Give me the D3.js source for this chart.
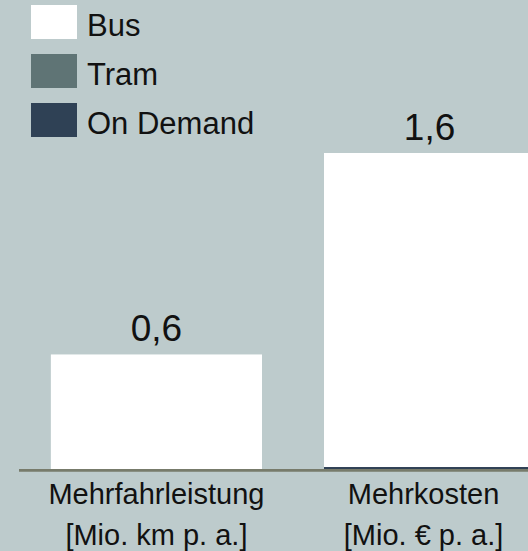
<!DOCTYPE html>
<html>
<head>
<meta charset="utf-8">
<script src="https://cdn.jsdelivr.net/npm/d3@7"></script>
<style>
    body { margin: 0; background: #bdcbcc; }
    svg { display: block; font-family: "Liberation Sans", Arial, sans-serif; }
</style>
</head>
<body>
<svg id="chart" width="528" height="551"></svg>
<script>
var categories = ['Mehrfahrleistung', 'Mehrkosten'];
var categoryUnits = ['[Mio. km p. a.]', '[Mio. € p. a.]'];
var seriesNames = ['Bus', 'Tram', 'On Demand'];
var busValues = [0.58, 1.59];
var tramValues = [0, 0];
var onDemandValues = [0, 0.01];
var seriesColors = ['#ffffff', '#5f7475', '#2f4155'];

var svg = d3.select('#chart');
var width = +svg.attr('width');
var height = +svg.attr('height');

svg.append('rect')
    .attr('width', width)
    .attr('height', height)
    .attr('fill', '#bdcbcc');

//-----------------------------------------------------------------------------
var rows = categories.map(function(c, i) {
    return {category: c, unit: categoryUnits[i], Bus: busValues[i], Tram: tramValues[i], 'On Demand': onDemandValues[i]};
});
// On Demand sits at the bottom of the stack, Bus on top
var stacked = d3.stack().keys(seriesNames).order(d3.stackOrderReverse)(rows);

var x = d3.scaleBand()
    .domain(categories)
    .range([20, 566])
    .paddingInner(0.227)
    .paddingOuter(0.113);

var y = d3.scaleLinear()
    .domain([0, 1.6])
    .range([469, 153]);

var color = d3.scaleOrdinal().domain(seriesNames).range(seriesColors);

//-----------------------------------------------------------------------------
svg.append('g')
    .selectAll('g')
    .data(stacked)
    .enter().append('g')
    .attr('fill', function(d) { return color(d.key); })
    .selectAll('rect')
    .data(function(d) { return d; })
    .enter().append('rect')
    .attr('x', function(d) { return x(d.data.category); })
    .attr('y', function(d) { return y(d[1]); })
    .attr('width', x.bandwidth())
    .attr('height', function(d) { return y(d[0]) - y(d[1]); });

// baseline
svg.append('line')
    .attr('x1', x.range()[0] - 1)
    .attr('x2', width)
    .attr('y1', y(0) + 1.4)
    .attr('y2', y(0) + 1.4)
    .attr('stroke', '#777b6b')
    .attr('stroke-width', 2.6);

// totals above bars
var fmt = d3.format('.1f');
svg.append('g')
    .selectAll('text')
    .data(rows)
    .enter().append('text')
    .attr('x', function(d) { return x(d.category) + x.bandwidth() / 2; })
    .attr('y', function(d) { return y(d.Bus + d.Tram + d['On Demand']) - 13; })
    .attr('text-anchor', 'middle')
    .style('font-size', '37px')
    .attr('fill', '#111')
    .text(function(d) { return fmt(d.Bus + d.Tram + d['On Demand']).replace('.', ','); });

// category labels
var catLabels = svg.append('g')
    .selectAll('text')
    .data(rows)
    .enter().append('text')
    .attr('text-anchor', 'middle')
    .style('font-size', '29px')
    .attr('fill', '#111');
catLabels.append('tspan')
    .attr('x', function(d, i) { return x(d.category) + x.bandwidth() / 2 - i * 6; })
    .attr('y', 504)
    .text(function(d) { return d.category; });
catLabels.append('tspan')
    .attr('x', function(d, i) { return x(d.category) + x.bandwidth() / 2 - i * 6; })
    .attr('y', 545)
    .text(function(d) { return d.unit; });

//-----------------------------------------------------------------------------
var legend = svg.append('g')
    .selectAll('g')
    .data(seriesNames)
    .enter().append('g')
    .attr('transform', function(d, i) { return 'translate(31,' + (5 + i * 49) + ')'; });
legend.append('rect')
    .attr('width', 46)
    .attr('height', 34)
    .attr('fill', function(d) { return color(d); });
legend.append('text')
    .attr('x', 56)
    .attr('y', 31)
    .style('font-size', '31px')
    .attr('fill', '#111')
    .text(function(d) { return d; });
</script>
</body>
</html>
